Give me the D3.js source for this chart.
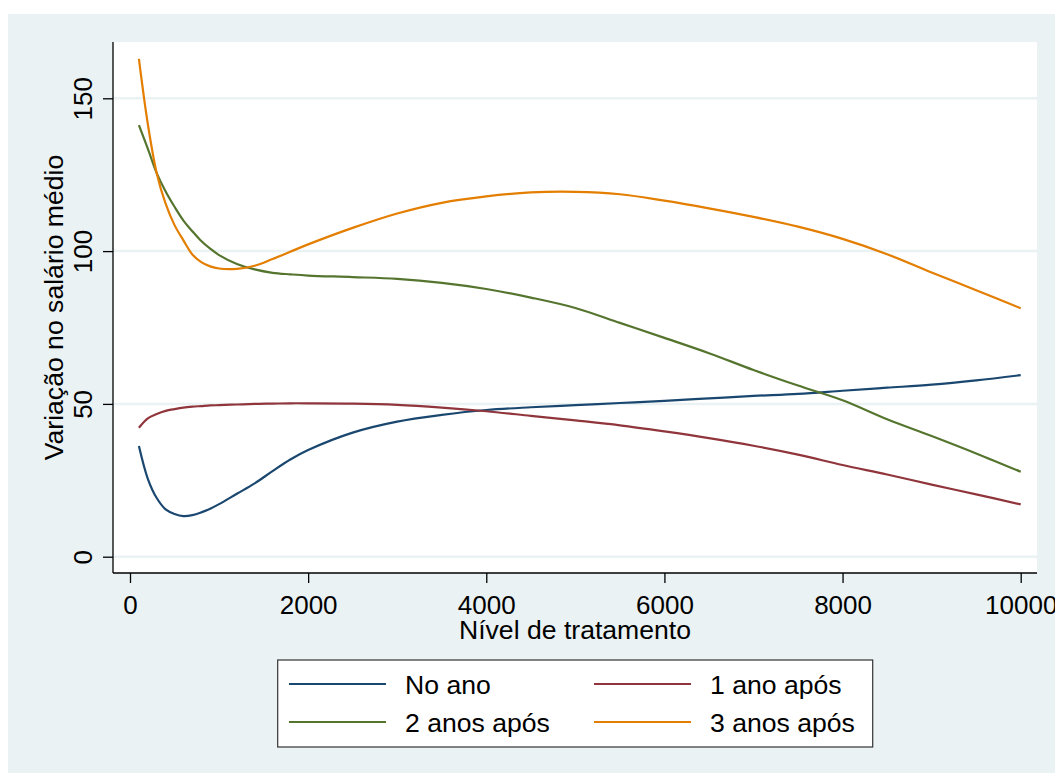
<!DOCTYPE html>
<html>
<head>
<meta charset="utf-8">
<script src="https://cdn.jsdelivr.net/npm/d3@7"></script>
<style>
  html, body { margin: 0; padding: 0; background: #ffffff; }
  svg { display: block; }
  text { font-family: "Liberation Sans", Arial, Helvetica, sans-serif; fill: #000; }
</style>
</head>
<body>
<svg id="chart" width="1055" height="773"></svg>
<script>
// ---- data ----
const xValues = [100,200,300,400,500,600,700,800,900,1000,1200,1400,1600,1800,2000,2500,3000,3500,4000,4500,5000,5500,6000,6500,7000,7500,8000,8500,9000,9500,10000];
const noAno =      [36.2,25.5,19.2,15.5,14.0,13.3,13.6,14.5,15.7,17.2,20.6,24.0,28.0,31.8,34.9,40.6,44.2,46.4,48.0,48.9,49.6,50.3,51.0,51.8,52.6,53.3,54.3,55.3,56.3,57.7,59.4];
const umAno =      [42.2,45.3,46.7,47.7,48.3,48.8,49.1,49.3,49.5,49.6,49.8,50.0,50.1,50.2,50.2,50.1,49.7,48.8,47.6,46.1,44.6,43.0,41.0,38.8,36.3,33.4,30.0,26.9,23.6,20.4,17.1];
const doisAnos =   [141.2,133.5,125.5,119.5,114.5,110.0,106.5,103.3,100.8,98.7,95.8,94.0,92.9,92.4,92.0,91.5,90.9,89.6,87.6,84.8,81.4,76.5,71.6,66.6,61.1,56.0,51.2,45.0,39.5,33.8,27.8];
const tresAnos =   [162.9,141.6,125.5,115.5,108.5,103.5,98.9,96.4,95.0,94.3,94.2,95.2,97.4,99.8,102.2,107.6,112.3,115.8,117.9,119.2,119.4,118.6,116.5,114.0,111.2,108.0,104.0,99.0,93.0,87.2,81.3];
const seriesNames = ["No ano", "1 ano após", "2 anos após", "3 anos após"];
const seriesColors = ["#1a476f", "#90353b", "#55752f", "#e37e00"];
const xTicks = [0, 2000, 4000, 6000, 8000, 10000];
const yTicks = [0, 50, 100, 150];
const xTitle = "Nível de tratamento";
const yTitle = "Variação no salário médio";

const allSeries = [noAno, umAno, doisAnos, tresAnos];

// ---- layout ----
const svg = d3.select("#chart");
const bg = "#eaf2f3";
const plot = { left: 113, right: 1037, top: 42, bottom: 573 };
const FS = 26;
const FT = 26.6;

svg.append("rect").attr("x", 8).attr("y", 14).attr("width", 1055 - 8).attr("height", 773 - 14).attr("fill", bg);
svg.append("rect").attr("x", plot.left).attr("y", plot.top)
  .attr("width", plot.right - plot.left).attr("height", plot.bottom - plot.top).attr("fill", "#ffffff");

const x = d3.scaleLinear().domain([0, 10000]).range([130, 1020.7]);
const y = d3.scaleLinear().domain([0, 150]).range([556.7, 98.3]);

// gridlines
svg.append("g").selectAll("line").data(yTicks).join("line")
  .attr("x1", plot.left).attr("x2", plot.right)
  .attr("y1", d => y(d)).attr("y2", d => y(d))
  .attr("stroke", bg).attr("stroke-width", 2.5);

// series
const line = d3.line().x(d => x(d[0])).y(d => y(d[1])).curve(d3.curveCatmullRom.alpha(0.5));
allSeries.forEach((vals, i) => {
  svg.append("path")
    .datum(xValues.map((xv, j) => [xv, vals[j]]))
    .attr("fill", "none").attr("stroke", seriesColors[i])
    .attr("stroke-width", 2.2).attr("stroke-linejoin", "round")
    .attr("d", line);
});

// y axis
const yAxisG = svg.append("g").attr("transform", `translate(${plot.left},0)`)
  .call(d3.axisLeft(y).tickValues(yTicks).tickSize(10).tickSizeOuter(0).tickFormat(d3.format("d")));
yAxisG.select(".domain").remove();
yAxisG.selectAll(".tick line").attr("stroke", "#000").attr("stroke-width", 1.3);
yAxisG.selectAll(".tick text")
  .attr("font-size", FS).attr("font-family", null)
  .attr("x", null).attr("dy", null)
  .attr("text-anchor", "middle")
  .attr("transform", "translate(-21,0) rotate(-90)");

svg.append("line").attr("x1", plot.left).attr("x2", plot.left)
  .attr("y1", plot.top).attr("y2", plot.bottom).attr("stroke", "#000").attr("stroke-width", 1.3);

// x axis
const xAxisG = svg.append("g").attr("transform", `translate(0,${plot.bottom})`)
  .call(d3.axisBottom(x).tickValues(xTicks).tickSize(10).tickSizeOuter(0).tickFormat(d3.format("d")));
xAxisG.select(".domain").remove();
xAxisG.selectAll(".tick line").attr("stroke", "#000").attr("stroke-width", 1.3);
xAxisG.selectAll(".tick text")
  .attr("font-size", FS).attr("font-family", null)
  .attr("y", 40.5).attr("dy", null);

svg.append("line").attr("x1", plot.left).attr("x2", plot.right)
  .attr("y1", plot.bottom).attr("y2", plot.bottom).attr("stroke", "#000").attr("stroke-width", 1.3);

// axis titles
svg.append("text").attr("x", (plot.left + plot.right) / 2).attr("y", 638.5)
  .attr("text-anchor", "middle").attr("font-size", FT).text(xTitle);
svg.append("text")
  .attr("transform", `translate(63,${(plot.top + plot.bottom) / 2}) rotate(-90)`)
  .attr("text-anchor", "middle").attr("font-size", FT).text(yTitle);

// legend
const lg = svg.append("g");
lg.append("rect").attr("x", 277.7).attr("y", 660).attr("width", 595).attr("height", 87)
  .attr("fill", "#ffffff").attr("stroke", "#333").attr("stroke-width", 1.2);
const legendPos = [
  { lx: 289, ly: 684 }, { lx: 594, ly: 684 },
  { lx: 289, ly: 722 }, { lx: 594, ly: 722 }
];
seriesNames.forEach((name, i) => {
  const p = legendPos[i];
  lg.append("line").attr("x1", p.lx).attr("x2", p.lx + 97)
    .attr("y1", p.ly).attr("y2", p.ly)
    .attr("stroke", seriesColors[i]).attr("stroke-width", 2.2);
  lg.append("text").attr("x", p.lx + 116).attr("y", p.ly + 9.5)
    .attr("font-size", FT).text(name);
});
</script>
</body>
</html>
